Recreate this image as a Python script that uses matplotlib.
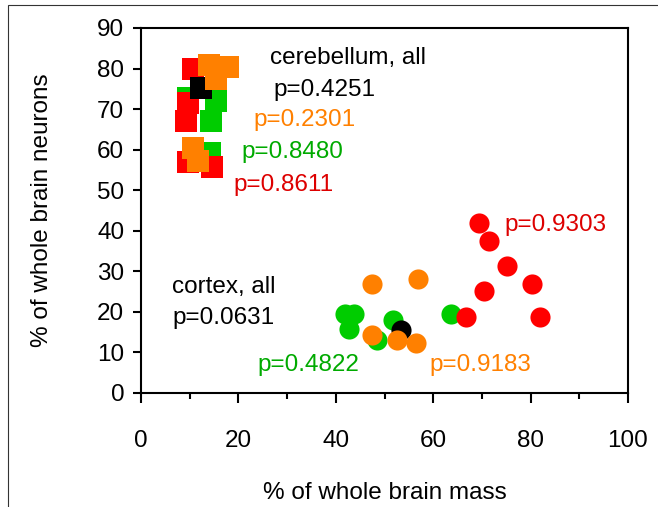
import matplotlib.pyplot as plt
from matplotlib.patches import Rectangle
from matplotlib.ticker import MultipleLocator

plt.rcParams['font.family'] = ['Liberation Sans', 'DejaVu Sans']

RED = '#ff0000'
GREEN = '#00cc00'
ORANGE = '#ff8000'

# cerebellum (squares): % brain mass, % brain neurons
cb_green_x = [9.6, 15.4, 14.4, 14.2]
cb_green_y = [72.8, 72.0, 67.0, 59.2]
cb_red_x = [10.7, 9.7, 9.2, 9.7, 14.5]
cb_red_y = [79.9, 71.4, 67.1, 57.0, 55.8]
cb_all_x = [12.4]
cb_all_y = [75.3]
cb_orange_x = [14.0, 17.9, 15.5, 10.7, 11.8]
cb_orange_y = [80.9, 80.4, 77.3, 60.5, 57.2]

# cortex (circles)
cx_green_x = [41.9, 43.8, 42.8, 51.7, 48.5, 63.7]
cx_green_y = [19.4, 19.4, 15.7, 18.1, 13.1, 19.4]
cx_red_x = [69.4, 71.5, 75.1, 80.3, 70.4, 66.7, 81.9]
cx_red_y = [41.8, 37.5, 31.3, 26.9, 25.1, 18.7, 18.7]
cx_all_x = [53.3]
cx_all_y = [15.5]
cx_orange_x = [47.5, 56.8, 47.5, 52.6, 56.4]
cx_orange_y = [26.8, 28.1, 14.3, 13.1, 12.4]

fig = plt.figure(figsize=(6.58, 5.07), dpi=100)
ax = fig.add_axes([0.2143, 0.2249, 0.7401, 0.7199])

sq = 250
ci = 210
ax.scatter(cb_green_x, cb_green_y, s=sq, marker='s', c=GREEN, linewidths=0, zorder=2)
ax.scatter(cb_red_x, cb_red_y, s=sq, marker='s', c=RED, linewidths=0, zorder=3)
ax.scatter(cb_all_x, cb_all_y, s=sq, marker='s', c='black', linewidths=0, zorder=4)
ax.scatter(cb_orange_x, cb_orange_y, s=sq, marker='s', c=ORANGE, linewidths=0, zorder=5)

ax.scatter(cx_green_x, cx_green_y, s=ci, marker='o', c=GREEN, linewidths=0, zorder=2)
ax.scatter(cx_red_x, cx_red_y, s=ci, marker='o', c=RED, linewidths=0, zorder=3)
ax.scatter(cx_all_x, cx_all_y, s=ci, marker='o', c='black', linewidths=0, zorder=4)
ax.scatter(cx_orange_x, cx_orange_y, s=ci, marker='o', c=ORANGE, linewidths=0, zorder=5)

fs = 17.5
notes = [
    (26.5, 82.6, 'cerebellum, all', 'black'),
    (27.1, 74.7, 'p=0.4251', 'black'),
    (23.0, 67.3, 'p=0.2301', ORANGE),
    (20.7, 59.4, 'p=0.8480', '#00aa00'),
    (18.9, 51.3, 'p=0.8611', '#dd0000'),
    (74.7, 41.4, 'p=0.9303', '#dd0000'),
    (6.4, 26.1, 'cortex, all', 'black'),
    (6.4, 18.5, 'p=0.0631', 'black'),
    (24.0, 6.9, 'p=0.4822', '#00aa00'),
    (59.3, 6.9, 'p=0.9183', ORANGE),
]
for x, y, t, col in notes:
    ax.text(x, y, t, color=col, fontsize=fs, ha='left', va='center', zorder=6)

ax.set_xlim(0, 100)
ax.set_ylim(0, 90)
ax.xaxis.set_major_locator(MultipleLocator(20))
ax.xaxis.set_minor_locator(MultipleLocator(10))
ax.yaxis.set_major_locator(MultipleLocator(10))
ax.tick_params(axis='x', which='major', direction='out', length=7, width=1.5,
               labelsize=fs, pad=20)
ax.tick_params(axis='x', which='minor', direction='out', length=4, width=1.5)
ax.tick_params(axis='y', which='major', direction='out', length=6, width=1.5,
               labelsize=fs, pad=6)
for sp in ax.spines.values():
    sp.set_linewidth(1.5)

ax.set_xlabel('% of whole brain mass', fontsize=fs, labelpad=21)
ax.set_ylabel('% of whole brain neurons', fontsize=fs, labelpad=32)

# outer frame of the figure
fig.add_artist(Rectangle((8 / 658, -0.1), 1.2, 1 - 5 / 507 + 0.1,
                         transform=fig.transFigure, fill=False,
                         edgecolor='#333333', linewidth=0.8))

fig.savefig('out.png', dpi=100)
